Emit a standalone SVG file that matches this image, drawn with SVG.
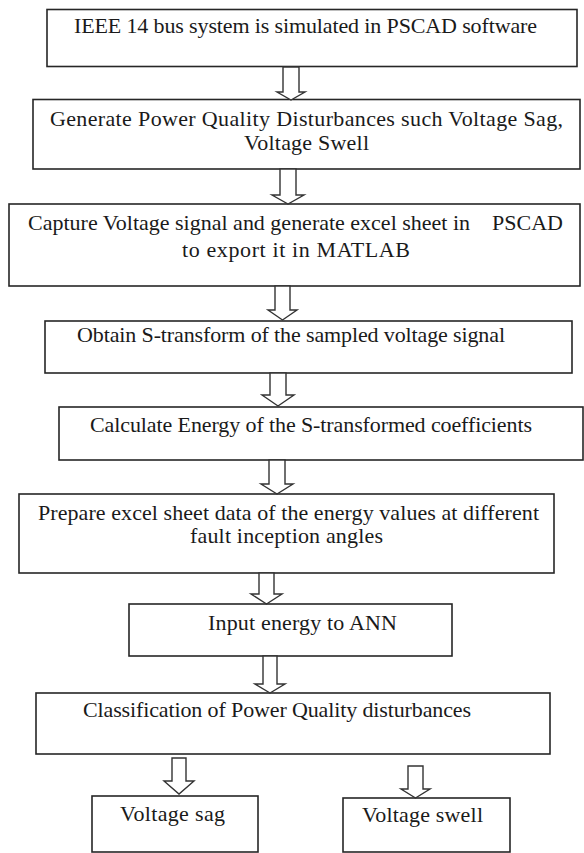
<svg xmlns="http://www.w3.org/2000/svg" width="584" height="853" viewBox="0 0 584 853">
<style>
.box{fill:#fff;stroke:#262626;stroke-width:1.6}
.t{font-family:"Liberation Serif","Times New Roman",serif;font-size:22px;fill:#1a1a1a}
.arr{fill:#fff;stroke:#333;stroke-width:1.4;stroke-linejoin:miter}
</style>
<rect width="584" height="853" fill="#fff"/>
<g id="n1"><rect class="box" x="47" y="9.5" width="530" height="57"/><text class="t" x="74" y="33" textLength="463">IEEE 14 bus system is simulated in PSCAD software</text></g>
<g id="n2"><rect class="box" x="33" y="99.5" width="547" height="69.5"/><text class="t" x="50" y="126" textLength="513">Generate Power Quality Disturbances such Voltage Sag,</text><text class="t" x="244" y="150" textLength="125">Voltage Swell</text></g>
<g id="n3"><rect class="box" x="9" y="204" width="571" height="82"/><text class="t" x="28" y="230" textLength="535" xml:space="preserve">Capture Voltage signal and generate excel sheet in    PSCAD</text><text class="t" x="182" y="257" textLength="228">to export it in MATLAB</text></g>
<g id="n4"><rect class="box" x="45" y="321" width="527" height="52"/><text class="t" x="77" y="342" textLength="428">Obtain S-transform of the sampled voltage signal</text></g>
<g id="n5"><rect class="box" x="59" y="407" width="524" height="53"/><text class="t" x="90" y="432" textLength="442">Calculate Energy of the S-transformed coefficients</text></g>
<g id="n6"><rect class="box" x="19" y="494" width="535" height="79"/><text class="t" x="38" y="520" textLength="501">Prepare excel sheet data of the energy values at different</text><text class="t" x="190" y="543" textLength="193">fault inception angles</text></g>
<g id="n7"><rect class="box" x="129" y="604" width="323" height="52"/><text class="t" x="208" y="630" textLength="189">Input energy to ANN</text></g>
<g id="n8"><rect class="box" x="36" y="693" width="514" height="61"/><text class="t" x="83" y="717" textLength="388">Classification of Power Quality disturbances</text></g>
<g id="n9"><rect class="box" x="92" y="796" width="166" height="56"/><text class="t" x="120" y="821" textLength="105">Voltage sag</text></g>
<g id="n10"><rect class="box" x="343" y="798" width="167" height="54"/><text class="t" x="362" y="822" textLength="121">Voltage swell</text></g>
<g id="connectors">
<path class="arr" d="M283 67V92H277L291 100L305 92H299V67Z"/>
<path class="arr" d="M280 169V195H272L288 204L304 195H296V169Z"/>
<path class="arr" d="M275 286V310H268L282.5 320L297 310H290V286Z"/>
<path class="arr" d="M270 373V395H262L278 406L294 395H286V373Z"/>
<path class="arr" d="M269 460V484H261L277 494L293 484H285V460Z"/>
<path class="arr" d="M259 573V594H251L266.5 604L282 594H274V573Z"/>
<path class="arr" d="M263 656V684H255L270 693L285 684H277V656Z"/>
<path class="arr" d="M172 758V781H164L179 794L194 781H186V758Z"/>
<path class="arr" d="M408 766V789H401L415.5 798L430 789H423V766Z"/>
</g>
</svg>
